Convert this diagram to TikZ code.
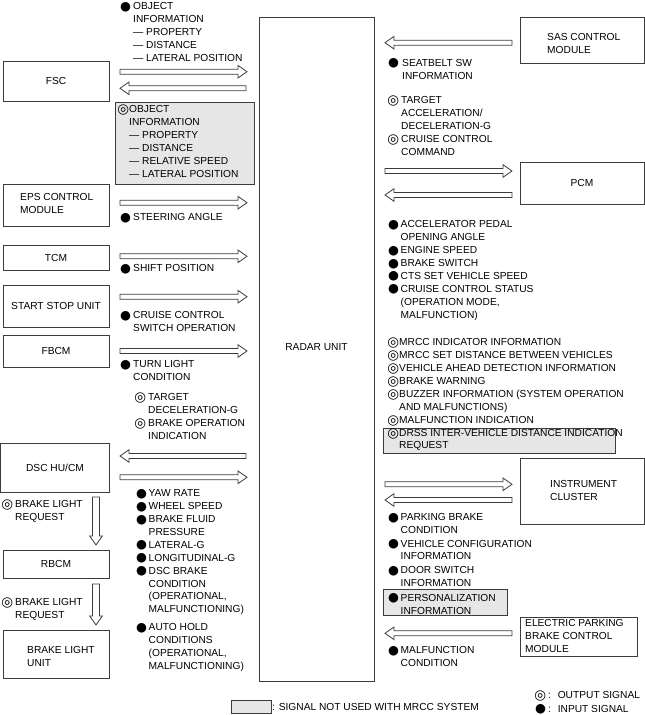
\documentclass[tikz,border=0pt]{standalone}
\usepackage{fontspec}
\setmainfont{Liberation Sans}
\newfontfamily\symf{DejaVu Sans}
\usetikzlibrary{calc}
\definecolor{sigray}{RGB}{230,230,230}
\definecolor{ln}{RGB}{60,60,60}
\newcommand\ibul{\makebox[0pt][l]{\raisebox{-0.6pt}{\symf\fontsize{12.5}{12}\selectfont ●}}}
\newcommand\obul{\makebox[0pt][l]{\hspace{-0.8pt}\raisebox{-1.2pt}{\symf\fontsize{13.5}{12}\selectfont ◎}}}
% horizontal hollow arrow: tail x, tip x, y
\newcommand\harr[3]{%
  \pgfmathsetmacro\hd{(#2>#1) ? -9 : 9}%
  \draw[arrowline] (#1,#3-2.5) -- (#2+\hd,#3-2.5) -- (#2+\hd,#3-6.3) -- (#2,#3)
    -- (#2+\hd,#3+6.3) -- (#2+\hd,#3+2.5) -- (#1,#3+2.5) -- cycle;}
% vertical hollow arrow: x, tail y, tip y
\newcommand\varr[3]{%
  \draw[arrowline] (#1-3.5,#2) -- (#1-3.5,#3-9) -- (#1-6.3,#3-9) -- (#1,#3)
    -- (#1+6.3,#3-9) -- (#1+3.5,#3-9) -- (#1+3.5,#2) -- cycle;}
\begin{document}
\begin{tikzpicture}[x=1pt,y=-1pt,
  font=\fontsize{10.2}{12.9}\selectfont,
  box/.style={draw=ln, line width=0.8pt, inner sep=0pt},
  graybox/.style={draw=ln, line width=0.7pt, fill=sigray},
  arrowline/.style={draw=ln, line width=0.8pt, fill=white, line join=miter},
  lbl/.style={anchor=base west, inner sep=0pt, align=left},
  ctr/.style={anchor=center, inner sep=0pt}]
\useasboundingbox (0,0) rectangle (645,715);

% ---------- RADAR UNIT ----------
\draw[box] (259,17) rectangle (374,681);
\node[ctr] (radar) at (316.5,347) {RADAR UNIT};

% ---------- left modules ----------
\draw[box] (3,61) rectangle (109,101);
\node[ctr] (fsc) at (56,81) {FSC};
\draw[box] (3,184) rectangle (109,226);
\node[lbl] (eps) at (20,200.7) {\begin{tabular}[t]{@{}l@{}}EPS CONTROL\\MODULE\end{tabular}};
\draw[box] (3,245) rectangle (109,270);
\node[ctr] (tcm) at (56,257.5) {TCM};
\draw[box] (3,285) rectangle (109,327);
\node[ctr] (ssu) at (56,306) {START STOP UNIT};
\draw[box] (3,335) rectangle (109,367);
\node[ctr] (fbcm) at (56,351) {FBCM};
\draw[box] (0,443) rectangle (109,492);
\node[ctr] (dsc) at (55,467.5) {DSC HU/CM};
\draw[box] (3,550) rectangle (109,578);
\node[ctr] (rbcm) at (56,564) {RBCM};
\draw[box] (3,630) rectangle (109,678);
\node[lbl] (blu) at (27,653.3) {\begin{tabular}[t]{@{}l@{}}BRAKE LIGHT\\UNIT\end{tabular}};

% ---------- right modules ----------
\draw[box] (520,17) rectangle (644,63);
\node[lbl] (sas) at (547,40.7) {\begin{tabular}[t]{@{}l@{}}SAS CONTROL\\MODULE\end{tabular}};
\draw[box] (520,162) rectangle (644,204);
\node[ctr] (pcm) at (582,183) {PCM};
\draw[box] (520,458) rectangle (644,524);
\node[lbl] (ic) at (550,487.7) {\begin{tabular}[t]{@{}l@{}}INSTRUMENT\\CLUSTER\end{tabular}};
\draw[box] (520,617) rectangle (637,656);
\node[lbl] (epb) at (525,626.7) {\begin{tabular}[t]{@{}l@{}}ELECTRIC PARKING\\BRAKE CONTROL\\MODULE\end{tabular}};

% ---------- gray boxes (not used with MRCC) ----------
\draw[graybox] (115,102) rectangle (254,184);
\draw[graybox] (383,428) rectangle (615,453);
\draw[graybox] (383,589) rectangle (507,615);

% ---------- arrows left ----------
\harr{120}{247}{71.7}
\harr{246}{120}{88.3}
\harr{120}{247}{202.7}
\harr{120}{247}{256.3}
\harr{120}{247}{296.7}
\harr{120}{247}{351}
\harr{246}{120}{456}
\harr{120}{247}{477.3}
\varr{96}{497}{545}
\varr{96}{584}{625}

% ---------- arrows right ----------
\harr{512}{385}{42.7}
\harr{385}{512}{171}
\harr{512}{385}{195}
\harr{385}{512}{484.3}
\harr{512}{385}{500}
\harr{512}{385}{633.3}

% ---------- signal texts, left ----------
\node[lbl] (t1) at (120,9.7) {\begin{tabular}[t]{@{}p{13pt}@{}l@{}}
\ibul & OBJECT\\ & INFORMATION\\ & — PROPERTY\\ & — DISTANCE\\ & — LATERAL POSITION\end{tabular}};
\node[lbl] (t2) at (118,112.7) {\begin{tabular}[t]{@{}p{11pt}@{}l@{}}
\obul & OBJECT\\ & INFORMATION\\ & — PROPERTY\\ & — DISTANCE\\ & — RELATIVE SPEED\\ & — LATERAL POSITION\end{tabular}};
\node[lbl] (t3) at (120,220.7) {\begin{tabular}[t]{@{}p{13pt}@{}l@{}}\ibul & STEERING ANGLE\end{tabular}};
\node[lbl] (t4) at (120,271.7) {\begin{tabular}[t]{@{}p{13pt}@{}l@{}}\ibul & SHIFT POSITION\end{tabular}};
\node[lbl] (t5) at (120,318.7) {\begin{tabular}[t]{@{}p{13pt}@{}l@{}}\ibul & CRUISE CONTROL\\ & SWITCH OPERATION\end{tabular}};
\node[lbl] (t6) at (120,367.7) {\begin{tabular}[t]{@{}p{13pt}@{}l@{}}\ibul & TURN LIGHT\\ & CONDITION\end{tabular}};
\node[lbl] (t7) at (135,400.7) {\begin{tabular}[t]{@{}p{13pt}@{}l@{}}
\obul & TARGET\\ & DECELERATION-G\\ \obul & BRAKE OPERATION\\ & INDICATION\end{tabular}};
\node[lbl] (t8) at (136,496.7) {\begin{tabular}[t]{@{}p{12.5pt}@{}l@{}}
\ibul & YAW RATE\\ \ibul & WHEEL SPEED\\ \ibul & BRAKE FLUID\\ & PRESSURE\\ \ibul & LATERAL-G\\
\ibul & LONGITUDINAL-G\\ \ibul & DSC BRAKE\\ & CONDITION\\ & (OPERATIONAL,\\ & MALFUNCTIONING)\end{tabular}};
\node[lbl] (t9) at (136,630.7) {\begin{tabular}[t]{@{}p{12.5pt}@{}l@{}}
\ibul & AUTO HOLD\\ & CONDITIONS\\ & (OPERATIONAL,\\ & MALFUNCTIONING)\end{tabular}};
\node[lbl] (t10) at (2,507.7) {\begin{tabular}[t]{@{}p{13pt}@{}l@{}}\obul & BRAKE LIGHT\\ & REQUEST\end{tabular}};
\node[lbl] (t11) at (2,605.7) {\begin{tabular}[t]{@{}p{13pt}@{}l@{}}\obul & BRAKE LIGHT\\ & REQUEST\end{tabular}};

% ---------- signal texts, right ----------
\node[lbl] (r1) at (388,66.3) {\begin{tabular}[t]{@{}p{14pt}@{}l@{}}\ibul & SEATBELT SW\\ & INFORMATION\end{tabular}};
\node[lbl] (r2) at (388,103.7) {\begin{tabular}[t]{@{}p{13pt}@{}l@{}}
\obul & TARGET\\ & ACCELERATION/\\ & DECELERATION-G\\ \obul & CRUISE CONTROL\\ & COMMAND\end{tabular}};
\node[lbl] (r3) at (388,227.7) {\begin{tabular}[t]{@{}p{12.5pt}@{}l@{}}
\ibul & ACCELERATOR PEDAL\\ & OPENING ANGLE\\ \ibul & ENGINE SPEED\\ \ibul & BRAKE SWITCH\\
\ibul & CTS SET VEHICLE SPEED\\ \ibul & CRUISE CONTROL STATUS\\ & (OPERATION MODE,\\ & MALFUNCTION)\end{tabular}};
\node[lbl] (r4) at (388,345.7) {\begin{tabular}[t]{@{}p{11pt}@{}l@{}}
\obul & MRCC INDICATOR INFORMATION\\ \obul & MRCC SET DISTANCE BETWEEN VEHICLES\\
\obul & VEHICLE AHEAD DETECTION INFORMATION\\ \obul & BRAKE WARNING\\
\obul & BUZZER INFORMATION (SYSTEM OPERATION\\ & AND MALFUNCTIONS)\\ \obul & MALFUNCTION INDICATION\\
\obul & DRSS INTER-VEHICLE DISTANCE INDICATION\\ & REQUEST\end{tabular}};
\node[lbl] (r5) at (388,520.7) {\begin{tabular}[t]{@{}p{12.5pt}@{}l@{}}
\ibul & PARKING BRAKE\\ & CONDITION\\[0.5pt] \ibul & VEHICLE CONFIGURATION\\ & INFORMATION\\[1pt]
\ibul & DOOR SWITCH\\ & INFORMATION\\[1.5pt] \ibul & PERSONALIZATION\\ & INFORMATION\end{tabular}};
\node[lbl] (r6) at (388,653.7) {\begin{tabular}[t]{@{}p{12.5pt}@{}l@{}}\ibul & MALFUNCTION\\ & CONDITION\end{tabular}};

% ---------- legend ----------
\draw[graybox] (231,700) rectangle (271,713);
\node[lbl] (lg1) at (272,710.7) {: SIGNAL NOT USED WITH MRCC SYSTEM};
\node[lbl] (lg2) at (535,698.7) {\obul\hspace{13pt}:\hspace{3pt} OUTPUT SIGNAL};
\node[lbl] (lg3) at (535,712.3) {\ibul\hspace{13pt}:\hspace{3pt} INPUT SIGNAL};
\end{tikzpicture}
\end{document}
